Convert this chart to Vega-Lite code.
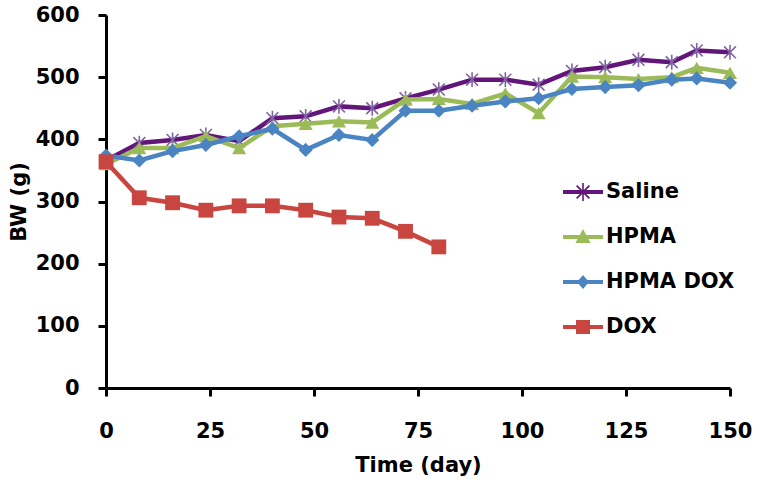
{
  "$schema": "https://vega.github.io/schema/vega-lite/v6.json",
  "width": 624,
  "height": 373,
  "autosize": {"type": "none"},
  "padding": {"left": 106, "top": 15, "right": 30, "bottom": 100},
  "background": "white",
  "config": {
    "view": {"stroke": null},
    "font": "DejaVu Sans",
    "axis": {
      "grid": false,
      "domainColor": "black",
      "domainWidth": 3,
      "tickColor": "black",
      "tickWidth": 3,
      "tickSize": 8,
      "labelFont": "DejaVu Sans",
      "labelFontWeight": "bold",
      "labelFontSize": 21,
      "labelColor": "black",
      "labelFlush": false,
      "titleFont": "DejaVu Sans",
      "titleFontWeight": "bold",
      "titleFontSize": 21,
      "titleColor": "black"
    }
  },
  "data": {
    "values": [
      {"series": "Saline", "day": 0, "bw": 366}, {"series": "Saline", "day": 8, "bw": 394}, {"series": "Saline", "day": 16, "bw": 399}, {"series": "Saline", "day": 24, "bw": 407}, {"series": "Saline", "day": 32, "bw": 397}, {"series": "Saline", "day": 40, "bw": 434}, {"series": "Saline", "day": 48, "bw": 437}, {"series": "Saline", "day": 56, "bw": 453}, {"series": "Saline", "day": 64, "bw": 450}, {"series": "Saline", "day": 72, "bw": 466}, {"series": "Saline", "day": 80, "bw": 480}, {"series": "Saline", "day": 88, "bw": 496}, {"series": "Saline", "day": 96, "bw": 496}, {"series": "Saline", "day": 104, "bw": 488}, {"series": "Saline", "day": 112, "bw": 510}, {"series": "Saline", "day": 120, "bw": 516}, {"series": "Saline", "day": 128, "bw": 528}, {"series": "Saline", "day": 136, "bw": 524}, {"series": "Saline", "day": 142, "bw": 543}, {"series": "Saline", "day": 150, "bw": 540},
      {"series": "HPMA", "day": 0, "bw": 360}, {"series": "HPMA", "day": 8, "bw": 386}, {"series": "HPMA", "day": 16, "bw": 386}, {"series": "HPMA", "day": 24, "bw": 405}, {"series": "HPMA", "day": 32, "bw": 386}, {"series": "HPMA", "day": 40, "bw": 421}, {"series": "HPMA", "day": 48, "bw": 425}, {"series": "HPMA", "day": 56, "bw": 429}, {"series": "HPMA", "day": 64, "bw": 427}, {"series": "HPMA", "day": 72, "bw": 464}, {"series": "HPMA", "day": 80, "bw": 465}, {"series": "HPMA", "day": 88, "bw": 457}, {"series": "HPMA", "day": 96, "bw": 474}, {"series": "HPMA", "day": 104, "bw": 442}, {"series": "HPMA", "day": 112, "bw": 501}, {"series": "HPMA", "day": 120, "bw": 500}, {"series": "HPMA", "day": 128, "bw": 497}, {"series": "HPMA", "day": 136, "bw": 500}, {"series": "HPMA", "day": 142, "bw": 515}, {"series": "HPMA", "day": 150, "bw": 507},
      {"series": "HPMA DOX", "day": 0, "bw": 374}, {"series": "HPMA DOX", "day": 8, "bw": 366}, {"series": "HPMA DOX", "day": 16, "bw": 381}, {"series": "HPMA DOX", "day": 24, "bw": 391}, {"series": "HPMA DOX", "day": 32, "bw": 405}, {"series": "HPMA DOX", "day": 40, "bw": 417}, {"series": "HPMA DOX", "day": 48, "bw": 383}, {"series": "HPMA DOX", "day": 56, "bw": 407}, {"series": "HPMA DOX", "day": 64, "bw": 399}, {"series": "HPMA DOX", "day": 72, "bw": 446}, {"series": "HPMA DOX", "day": 80, "bw": 446}, {"series": "HPMA DOX", "day": 88, "bw": 454}, {"series": "HPMA DOX", "day": 96, "bw": 461}, {"series": "HPMA DOX", "day": 104, "bw": 466}, {"series": "HPMA DOX", "day": 112, "bw": 481}, {"series": "HPMA DOX", "day": 120, "bw": 484}, {"series": "HPMA DOX", "day": 128, "bw": 487}, {"series": "HPMA DOX", "day": 136, "bw": 496}, {"series": "HPMA DOX", "day": 142, "bw": 498}, {"series": "HPMA DOX", "day": 150, "bw": 491},
      {"series": "DOX", "day": 0, "bw": 364}, {"series": "DOX", "day": 8, "bw": 306}, {"series": "DOX", "day": 16, "bw": 298}, {"series": "DOX", "day": 24, "bw": 286}, {"series": "DOX", "day": 32, "bw": 293}, {"series": "DOX", "day": 40, "bw": 293}, {"series": "DOX", "day": 48, "bw": 286}, {"series": "DOX", "day": 56, "bw": 275}, {"series": "DOX", "day": 64, "bw": 273}, {"series": "DOX", "day": 72, "bw": 252}, {"series": "DOX", "day": 80, "bw": 227}
    ]
  },
  "encoding": {
    "x": {
      "field": "day", "type": "quantitative",
      "scale": {"domain": [0, 150], "nice": false, "zero": false},
      "axis": {"values": [0, 25, 50, 75, 100, 125, 150], "title": "Time (day)", "labelPadding": 24, "titlePadding": 13}
    },
    "y": {
      "field": "bw", "type": "quantitative",
      "scale": {"domain": [0, 600], "nice": false},
      "axis": {"values": [0, 100, 200, 300, 400, 500, 600], "title": "BW (g)", "labelPadding": 19, "titlePadding": 6}
    }
  },
  "layer": [
    {"transform": [{"filter": "datum.series === 'Saline'"}], "mark": {"type": "line", "color": "#63167A", "strokeWidth": 4.5}},
    {"transform": [{"filter": "datum.series === 'Saline'"}], "mark": {"type": "point", "shape": "M0,-1V1M-0.8,-0.8L0.8,0.8M-0.8,0.8L0.8,-0.8", "filled": false, "stroke": "#8064A2", "strokeWidth": 1.6, "size": 220, "opacity": 1}},
    {"transform": [{"filter": "datum.series === 'HPMA'"}], "mark": {"type": "line", "color": "#9BBB59", "strokeWidth": 4.5}},
    {"transform": [{"filter": "datum.series === 'HPMA'"}], "mark": {"type": "point", "shape": "triangle-up", "filled": true, "color": "#9BBB59", "size": 200, "opacity": 1}},
    {"transform": [{"filter": "datum.series === 'HPMA DOX'"}], "mark": {"type": "line", "color": "#4A84C2", "strokeWidth": 4.5}},
    {"transform": [{"filter": "datum.series === 'HPMA DOX'"}], "mark": {"type": "point", "shape": "diamond", "filled": true, "color": "#4A84C2", "size": 200, "opacity": 1}},
    {"transform": [{"filter": "datum.series === 'DOX'"}], "mark": {"type": "line", "color": "#C8463F", "strokeWidth": 4.5}},
    {"transform": [{"filter": "datum.series === 'DOX'"}], "mark": {"type": "point", "shape": "square", "filled": true, "color": "#C8463F", "size": 220, "opacity": 1}},
    {
      "transform": [{"filter": "datum.day < 0"}],
      "mark": {"type": "point", "filled": true, "opacity": 1},
      "encoding": {
        "color": {
          "field": "series", "type": "nominal",
          "scale": {"domain": ["Saline", "HPMA", "HPMA DOX", "DOX"], "range": ["#63167A", "#9BBB59", "#4A84C2", "#C8463F"]},
          "legend": {
            "title": null, "orient": "none", "legendX": 457, "legendY": 157, "padding": 0,
            "symbolSize": 1600, "symbolStrokeWidth": 0, "symbolOpacity": 1,
            "labelFont": "DejaVu Sans", "labelFontWeight": "bold", "labelFontSize": 21, "labelColor": "black",
            "labelOffset": 3, "rowPadding": 15, "labelLimit": 300
          }
        },
        "shape": {
          "field": "series", "type": "nominal",
          "scale": {"domain": ["Saline", "HPMA", "HPMA DOX", "DOX"], "range": [
            "M-1,-0.1H1V0.1H-1Z M-0.04,-0.45H0.04V0.45H-0.04Z M-0.29,-0.35L0.35,0.29L0.29,0.35L-0.35,-0.29Z M0.35,-0.29L-0.29,0.35L-0.35,0.29L0.29,-0.35Z",
            "M-1,-0.1H1V0.1H-1Z M0,-0.4L0.38,0.3L-0.38,0.3Z",
            "M-1,-0.1H1V0.1H-1Z M0,-0.35L0.3,0L0,0.35L-0.3,0Z",
            "M-1,-0.1H1V0.1H-1Z M-0.35,-0.35H0.35V0.35H-0.35Z"
          ]}
        }
      }
    }
  ]
}
